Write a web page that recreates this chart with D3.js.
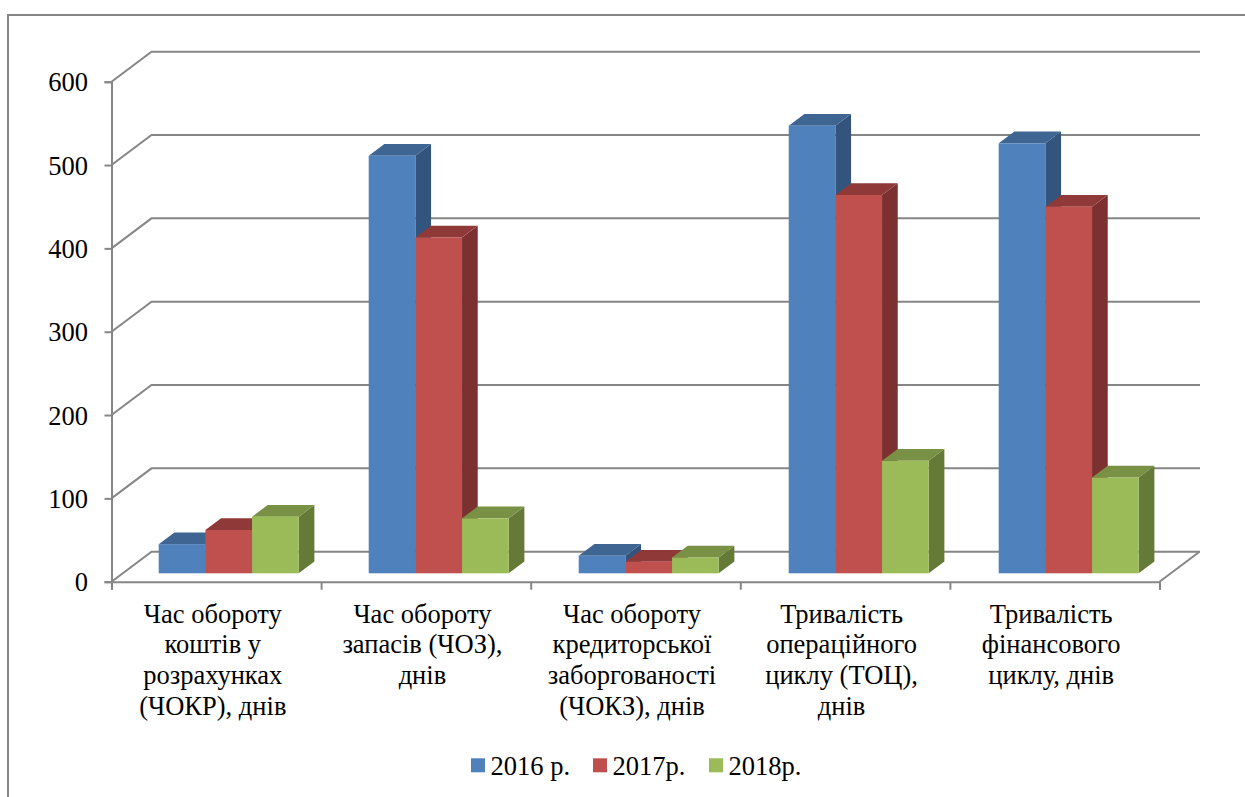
<!DOCTYPE html>
<html>
<head>
<meta charset="utf-8">
<script src="https://cdn.jsdelivr.net/npm/d3@7"></script>
<style>
  html, body { margin: 0; padding: 0; background: #fff; overflow: hidden; }
  .axis path, .axis line { stroke: #868686; stroke-width: 2; }
</style>
</head>
<body>
<div id="chart"></div>
<script>
var svgWidth = 1245;
var svgHeight = 797;
var fontName = "'Liberation Serif'";
var fontSize = "26.5px";

// DATA
var categories = [
  ["Час обороту", "коштів у", "розрахунках", "(ЧОКР), днів"],
  ["Час обороту", "запасів (ЧОЗ),", "днів"],
  ["Час обороту", "кредиторської", "заборгованості", "(ЧОКЗ), днів"],
  ["Тривалість", "операційного", "циклу (ТОЦ),", "днів"],
  ["Тривалість", "фінансового", "циклу, днів"]
];
var seriesNames = ["2016 р.", "2017р.", "2018р."];
var values2016 = [35, 501, 21, 537, 516];
var values2017 = [52, 403, 14, 454, 440];
var values2018 = [68, 66, 19, 135, 115];
var yTicks = [0, 100, 200, 300, 400, 500, 600];

var seriesValues = [values2016, values2017, values2018];
var colors = ["#4F81BD", "#C0504D", "#9BBB59"];
var topColors = ["#3F6592", "#8F3A38", "#799145"];
var sideColors = ["#32547D", "#7C3130", "#667A38"];

// plot geometry
var plot = { left: 111.5, right: 1159.5, top: 81.7, bottom: 581.7 };
var depth = { x: 40, y: -30 };          // back wall offset
var barDepth = { x: 15.7, y: -11.7 };   // bar side offset
var barLift = 8.4;                      // bars stand a little behind the front edge

var svg = d3.select("#chart")
  .append("svg")
  .attr("width", svgWidth)
  .attr("height", svgHeight);

// outer frame, cut off at the right and bottom of the picture
svg.append("path")
  .attr("d", "M8,797V15H1245")
  .attr("fill", "none")
  .attr("stroke", "#868686")
  .attr("stroke-width", 2);

var x = d3.scaleBand()
  .domain(d3.range(categories.length))
  .range([plot.left, plot.right]);

// bars run very slightly wider than the axis ticks in the original
var xBars = d3.scaleBand()
  .domain(d3.range(categories.length))
  .range([plot.left, plot.left + 1050]);

var y = d3.scaleLinear()
  .domain([0, 600])
  .range([plot.bottom, plot.top]);

var barScale = d3.scaleBand()
  .domain(d3.range(seriesNames.length))
  .range([47.2, 47.2 + 140]);

// WALL AND FLOOR
var wall = svg.append("g")
  .attr("fill", "none")
  .attr("stroke", "#868686")
  .attr("stroke-width", 2);

wall.selectAll("polyline")
  .data(yTicks)
  .enter()
  .append("polyline")
  .attr("points", d => [
    [plot.left, y(d)],
    [plot.left + depth.x, y(d) + depth.y],
    [plot.right + depth.x + 0.5, y(d) + depth.y]
  ].join(" "));

wall.append("line")
  .attr("x1", plot.right)
  .attr("y1", plot.bottom)
  .attr("x2", plot.right + depth.x)
  .attr("y2", plot.bottom + depth.y);

// BARS
var barBase = plot.bottom - barLift;
var barHeight = (y(0) - y(100)) / 100;

function barTop(v) {
  return barBase - v * barHeight;
}

var groups = svg.selectAll(".group")
  .data(categories)
  .enter()
  .append("g")
  .attr("class", "group")
  .attr("transform", (d, i) => `translate(${xBars(i)}, 0)`);

groups.each(function(d, i) {
  var g = d3.select(this);
  seriesValues.forEach(function(vals, s) {
    var x0 = barScale(s);
    var x1 = x0 + barScale.bandwidth();
    var t = barTop(vals[i]);
    // side
    g.append("polygon")
      .attr("points", [[x1, t], [x1 + barDepth.x, t + barDepth.y],
        [x1 + barDepth.x, barBase + barDepth.y], [x1, barBase]].join(" "))
      .attr("fill", sideColors[s]);
    // top
    g.append("polygon")
      .attr("points", [[x0, t], [x0 + barDepth.x, t + barDepth.y],
        [x1 + barDepth.x, t + barDepth.y], [x1, t]].join(" "))
      .attr("fill", topColors[s]);
    // front
    g.append("rect")
      .attr("x", x0)
      .attr("y", t)
      .attr("width", x1 - x0)
      .attr("height", barBase - t)
      .attr("fill", colors[s]);
  });
});

// AXES
var leftAxis = d3.axisLeft(y)
  .tickValues(yTicks)
  .tickSize(7)
  .tickPadding(16.5);

svg.append("g")
  .attr("class", "axis")
  .attr("transform", `translate(${plot.left}, 0)`)
  .call(leftAxis)
  .call(g => g.selectAll("text")
    .style("font-family", fontName)
    .style("font-size", fontSize)
    .style("fill", "#000")
    .attr("dy", "0.34em"));

var edgeScale = d3.scaleLinear()
  .domain([0, categories.length])
  .range([plot.left, plot.right]);

var bottomAxis = d3.axisBottom(edgeScale)
  .tickValues(d3.range(categories.length + 1))
  .tickSize(8)
  .tickFormat("");

svg.append("g")
  .attr("class", "axis")
  .attr("transform", `translate(0, ${plot.bottom})`)
  .call(bottomAxis);

// CATEGORY LABELS
var labels = svg.selectAll(".cat")
  .data(categories)
  .enter()
  .append("text")
  .attr("class", "cat")
  .attr("text-anchor", "middle")
  .style("font-family", fontName)
  .style("font-size", fontSize);

labels.selectAll("tspan")
  .data((d, i) => d.map(t => ({ t: t, i: i })))
  .enter()
  .append("tspan")
  .attr("x", d => x(d.i) + x.bandwidth() / 2 - 3.5)
  .attr("y", (d, j) => 622.7 + j * 30.6)
  .text(d => d.t);

// LEGEND
var legendX = [471, 593, 709];
var legend = svg.selectAll(".legend")
  .data(seriesNames)
  .enter()
  .append("g")
  .attr("class", "legend")
  .attr("transform", (d, i) => `translate(${legendX[i]}, 758.3)`);

legend.append("rect")
  .attr("width", 14)
  .attr("height", 14)
  .attr("fill", (d, i) => colors[i]);

legend.append("text")
  .attr("x", 19.5)
  .attr("y", 16.5)
  .style("font-family", fontName)
  .style("font-size", fontSize)
  .text(d => d);
</script>
</body>
</html>
